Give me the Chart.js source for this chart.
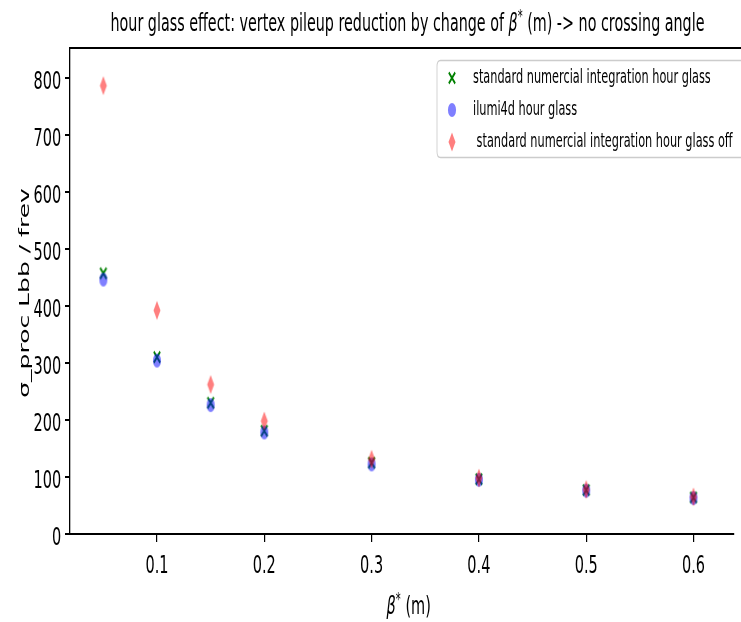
<!DOCTYPE html>
<html><head><meta charset="utf-8">
<script src="https://cdn.jsdelivr.net/npm/chart.js@4.4.1/dist/chart.umd.min.js"></script>
<style>
html,body{margin:0;padding:0;background:#fff;overflow:hidden;}
canvas{display:block;}
</style></head><body>
<canvas id="c" width="741" height="622"></canvas>
<script>
// ---- data ----
const betaStar = [0.05, 0.1, 0.15, 0.2, 0.3, 0.4, 0.5, 0.6];
const hourGlassStd = [457, 310, 230, 181, 125, 96, 77, 64];
const hourGlassIlumi = [446, 304, 226, 178, 122, 95, 76, 63];
const hourGlassOff = [786, 392, 262, 198, 131, 98, 78, 65];
const xTicks = [0.1, 0.2, 0.3, 0.4, 0.5, 0.6];
const yTicks = [0, 100, 200, 300, 400, 500, 600, 700, 800];
const seriesLabels = ['standard numercial integration hour glass', 'ilumi4d hour glass', ' standard numercial integration hour glass off'];
const titleText = ['hour glass effect: vertex pileup reduction by change of ', 'β', '*', ' (m) -> no crossing angle'];
const xLabelText = ['β', '*', ' (m)'];
const yLabelText = 'σ_proc Lbb / frev';

// horizontal condensation of text and markers (narrow look of the original)
const S = 0.58;

// ---- marker glyphs (pre-condensed) ----
function mk(w, h, draw) { const c = document.createElement('canvas'); c.width = w; c.height = h; const g = c.getContext('2d'); g.translate(w / 2, h / 2); g.scale(S, 1); draw(g); return c; }
const mX = mk(10, 16, g => { g.strokeStyle = '#008000'; g.lineWidth = 2.6; g.beginPath(); g.moveTo(-5.5, -5.5); g.lineTo(5.5, 5.5); g.moveTo(5.5, -5.5); g.lineTo(-5.5, 5.5); g.stroke(); });
const mO = mk(10, 16, g => { g.fillStyle = 'rgba(0,0,255,0.5)'; g.beginPath(); g.arc(0, 0, 7, 0, Math.PI * 2); g.fill(); });
const mD = mk(10, 22, g => { g.fillStyle = 'rgba(255,0,0,0.5)'; g.beginPath(); g.moveTo(0, -9.5); g.lineTo(6, 0); g.lineTo(0, 9.5); g.lineTo(-6, 0); g.closePath(); g.fill(); });
const markers = [mX, mO, mD];

const F = '25px "DejaVu Sans"';
const FT = '24.7px "DejaVu Sans"';
const FI = 'italic 25px "DejaVu Sans"';
const FTI = 'italic 24.7px "DejaVu Sans"';
const FS = '17px "DejaVu Sans"';
const FL = '19.5px "DejaVu Sans"';

function sqText(ctx, text, x, y, font, align, baseline) {
  ctx.save(); ctx.translate(x, y); ctx.scale(S, 1);
  ctx.font = font; ctx.textAlign = align; ctx.textBaseline = baseline;
  ctx.fillText(text, 0, 0); ctx.restore();
}
function sqRich(ctx, parts, cx, y) {
  ctx.save(); ctx.translate(cx, y); ctx.scale(S, 1);
  let total = 0;
  parts.forEach(p => { ctx.font = p.f; p.w = ctx.measureText(p.t).width; total += p.w; });
  let x = -total / 2;
  ctx.textAlign = 'left'; ctx.textBaseline = 'alphabetic';
  parts.forEach(p => { ctx.font = p.f; ctx.fillText(p.t, x, p.dy || 0); x += p.w; });
  ctx.restore();
}

const deco = {
  id: 'deco',
  afterDraw(chart) {
    const ctx = chart.ctx, ca = chart.chartArea, xs = chart.scales.x, ys = chart.scales.y;
    const W = chart.width;
    ctx.save();
    ctx.fillStyle = '#000';
    // top frame line
    ctx.fillRect(ca.left - 0.6, ca.top - 1, W - ca.left + 1, 2);
    // tick labels
    xTicks.forEach(v => sqText(ctx, String(v), xs.getPixelForValue(v), 573, F, 'center', 'alphabetic'));
    yTicks.forEach(v => sqText(ctx, String(v), ca.left - 8.7, ys.getPixelForValue(v) + 11, F, 'right', 'alphabetic'));
    // title
    sqRich(ctx, [{t: titleText[0], f: FT}, {t: titleText[1], f: FTI}, {t: titleText[2], f: FS, dy: -9}, {t: titleText[3], f: FT}], 407.5, 31);
    // x label
    sqRich(ctx, [{t: xLabelText[0], f: FI}, {t: xLabelText[1], f: FS, dy: -9}, {t: xLabelText[2], f: F}], 408.7, 614);
    // y label
    ctx.save(); ctx.translate(29, 293); ctx.scale(S, 1); ctx.rotate(-Math.PI / 2);
    ctx.font = F; ctx.textAlign = 'center'; ctx.textBaseline = 'alphabetic'; ctx.fillText(yLabelText, 0, 0); ctx.restore();
    // legend box
    ctx.save(); ctx.translate(437, 60.5); ctx.scale(S, 1);
    const lw = 600, lh = 97, r = 6;
    ctx.fillStyle = 'rgba(255,255,255,0.85)'; ctx.strokeStyle = '#cccccc'; ctx.lineWidth = 1.5;
    ctx.beginPath();
    ctx.moveTo(r, 0); ctx.lineTo(lw, 0); ctx.lineTo(lw, lh); ctx.lineTo(r, lh);
    ctx.quadraticCurveTo(0, lh, 0, lh - r); ctx.lineTo(0, r); ctx.quadraticCurveTo(0, 0, r, 0);
    ctx.closePath(); ctx.fill(); ctx.stroke();
    ctx.restore();
    const rows = [78, 110, 142];
    seriesLabels.forEach((s, i) => {
      const m = markers[i];
      ctx.drawImage(m, 452 - m.width / 2, rows[i] - m.height / 2);
      sqText(ctx, s, 473, rows[i], FL, 'left', 'middle');
    });
    ctx.restore();
  }
};

const pts = arr => betaStar.map((x, i) => ({x: x, y: arr[i]}));
const PX_PER_UNIT = 1073;

new Chart(document.getElementById('c'), {
  type: 'scatter',
  data: {
    datasets: [
      {label: seriesLabels[0], data: pts(hourGlassStd), pointStyle: mX, pointRadius: 6, order: 3},
      {label: seriesLabels[1], data: pts(hourGlassIlumi), pointStyle: mO, pointRadius: 6, order: 2},
      {label: seriesLabels[2], data: pts(hourGlassOff), pointStyle: mD, pointRadius: 6, order: 1}
    ]
  },
  options: {
    responsive: false, devicePixelRatio: 1, animation: false,
    layout: {padding: {top: 48, right: -12, left: 0, bottom: 0}},
    plugins: {legend: {display: false}, title: {display: false}, tooltip: {enabled: false}},
    scales: {
      x: {
        type: 'linear', min: 0.0189, max: 0.65,
        afterBuildTicks: s => {
          s.ticks = xTicks.map(v => ({value: v}));
          s.min = 0.1 - 87 / PX_PER_UNIT;
          s.max = s.min + s.width / PX_PER_UNIT;
        },
        afterFit: s => { s.height = 88; },
        ticks: {display: false},
        grid: {drawOnChartArea: false, drawTicks: true, tickLength: 8, color: '#000', lineWidth: 1.2},
        border: {display: true, color: '#000', width: 2}
      },
      y: {
        type: 'linear', min: 0, max: 852,
        afterBuildTicks: s => { s.ticks = yTicks.map(v => ({value: v})); },
        afterFit: s => { s.width = 70; },
        ticks: {display: false},
        grid: {drawOnChartArea: false, drawTicks: true, tickLength: 5, color: '#000', lineWidth: 2},
        border: {display: true, color: '#000', width: 1.3}
      }
    }
  },
  plugins: [deco]
});
</script>
</body></html>
